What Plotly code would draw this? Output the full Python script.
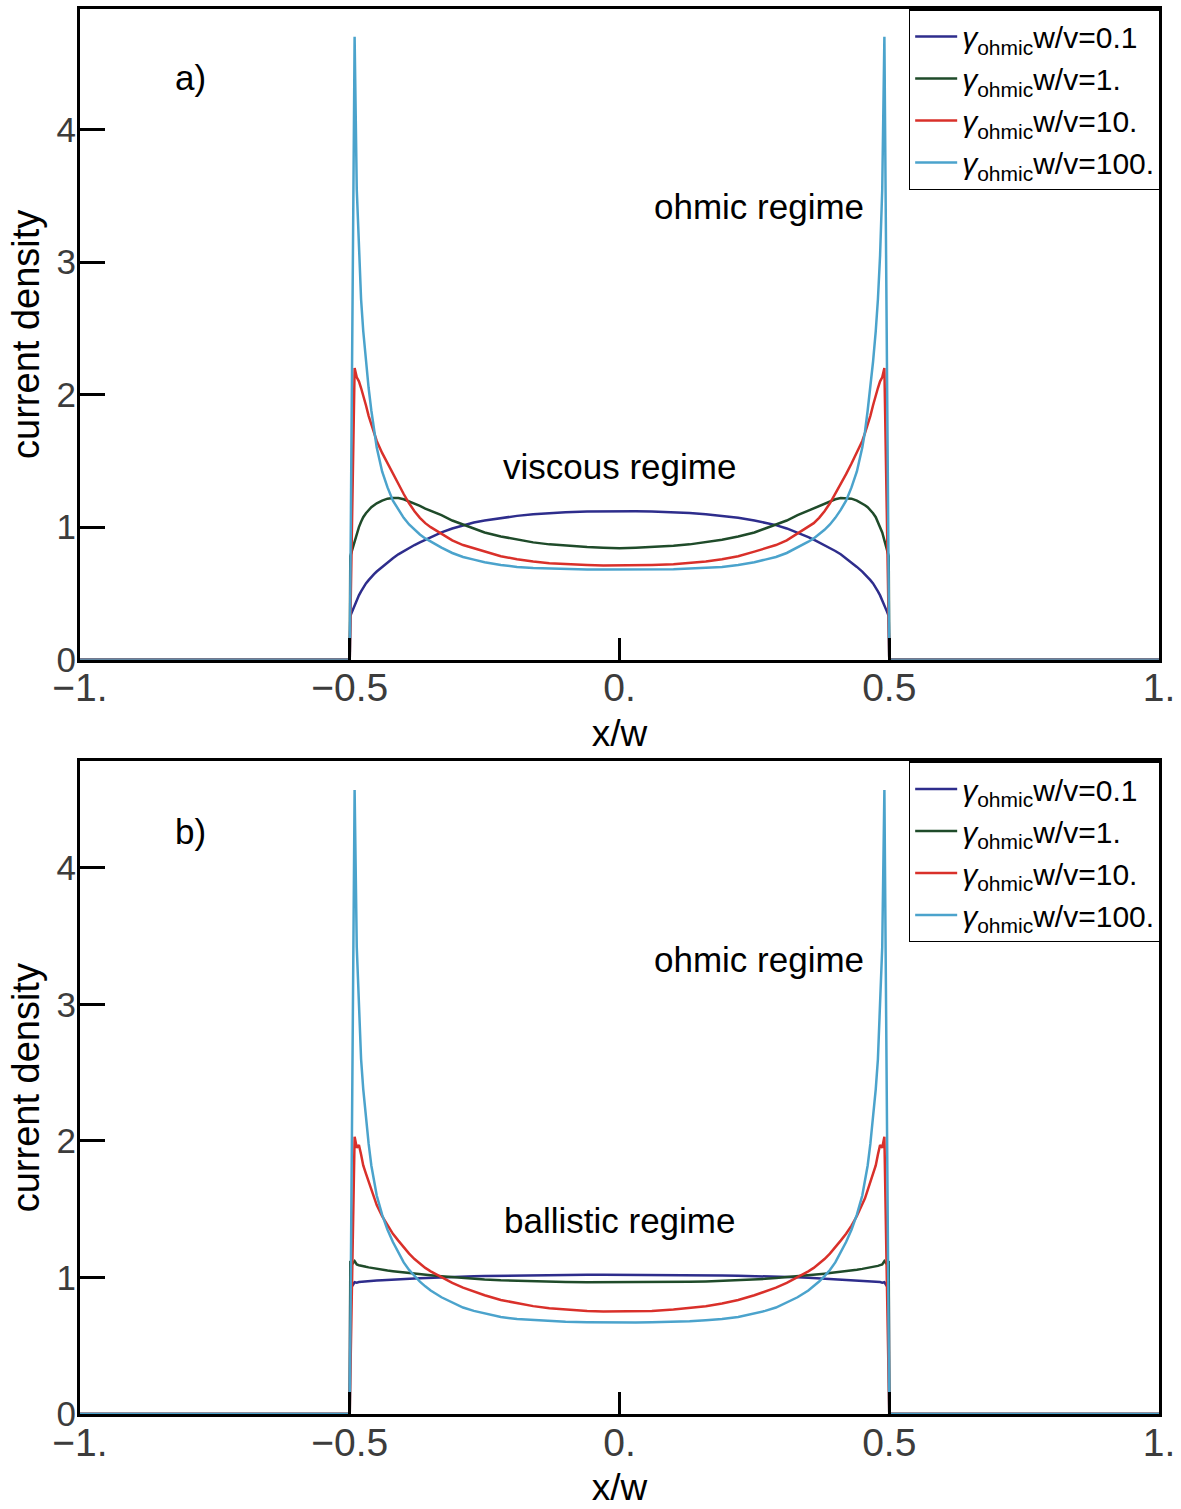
import plotly.graph_objects as go

# sample positions (x/w), shared by all curves
x_grid = [-1.0,
          -0.5, -0.499, -0.495, -0.491, -0.487, -0.483, -0.479, -0.475, -0.47, -0.465,
          -0.46, -0.455, -0.45, -0.44, -0.43, -0.42, -0.41, -0.40, -0.39, -0.38,
          -0.37, -0.36, -0.35, -0.33, -0.31, -0.29, -0.27, -0.25, -0.22, -0.19,
          -0.16, -0.13, -0.10, -0.06, -0.03, 0.0,
          0.03, 0.06, 0.10, 0.13, 0.16, 0.19, 0.22, 0.25, 0.27, 0.29,
          0.31, 0.33, 0.35, 0.36, 0.37, 0.38, 0.39, 0.40, 0.41, 0.42,
          0.43, 0.44, 0.45, 0.455, 0.46, 0.465, 0.47, 0.475, 0.479, 0.483,
          0.487, 0.491, 0.495, 0.499, 0.5,
          1.0]

# panel a) viscous regime
a_g01 = [0,
         0, 0.33, 0.37, 0.41, 0.45, 0.485, 0.515, 0.545, 0.575, 0.60,
         0.625, 0.645, 0.665, 0.70, 0.735, 0.765, 0.795, 0.82, 0.845, 0.865,
         0.885, 0.905, 0.925, 0.96, 0.99, 1.015, 1.035, 1.05, 1.07, 1.085,
         1.097, 1.107, 1.113, 1.118, 1.12, 1.12,
         1.12, 1.118, 1.113, 1.107, 1.097, 1.085, 1.07, 1.05, 1.035, 1.015,
         0.99, 0.96, 0.925, 0.905, 0.885, 0.865, 0.845, 0.82, 0.795, 0.765,
         0.735, 0.70, 0.665, 0.645, 0.625, 0.60, 0.575, 0.545, 0.515, 0.485,
         0.45, 0.41, 0.37, 0.33, 0,
         0]
a_g1 = [0,
        0, 0.78, 0.84, 0.90, 0.96, 1.00, 1.04, 1.075, 1.105, 1.13,
        1.15, 1.165, 1.18, 1.20, 1.215, 1.22, 1.22, 1.21, 1.195, 1.18,
        1.16, 1.14, 1.125, 1.09, 1.05, 1.02, 0.99, 0.96, 0.93, 0.905,
        0.885, 0.87, 0.86, 0.85, 0.845, 0.84,
        0.845, 0.85, 0.86, 0.87, 0.885, 0.905, 0.93, 0.96, 0.99, 1.02,
        1.05, 1.09, 1.125, 1.14, 1.16, 1.18, 1.195, 1.21, 1.22, 1.22,
        1.215, 1.20, 1.18, 1.165, 1.15, 1.13, 1.105, 1.075, 1.04, 1.00,
        0.96, 0.90, 0.84, 0.78, 0,
        0]
a_g10 = [0,
         0, 0.25, 1.2, 2.20, 2.13, 2.10, 2.05, 2.00, 1.92, 1.84,
         1.77, 1.71, 1.65, 1.56, 1.48, 1.40, 1.32, 1.25, 1.18, 1.12,
         1.07, 1.03, 1.00, 0.95, 0.90, 0.865, 0.84, 0.815, 0.78, 0.758,
         0.74, 0.728, 0.72, 0.715, 0.71, 0.71,
         0.71, 0.715, 0.72, 0.728, 0.74, 0.758, 0.78, 0.815, 0.84, 0.865,
         0.90, 0.95, 1.00, 1.03, 1.07, 1.12, 1.18, 1.25, 1.32, 1.40,
         1.48, 1.56, 1.65, 1.71, 1.77, 1.84, 1.92, 2.00, 2.05, 2.10,
         2.13, 2.20, 1.2, 0.25, 0,
         0]
a_g100 = [0,
          0, 0.5, 2.6, 4.70, 3.55, 3.05, 2.72, 2.48, 2.25, 2.05,
          1.88, 1.72, 1.60, 1.42, 1.30, 1.20, 1.13, 1.07, 1.02, 0.98,
          0.945, 0.915, 0.89, 0.845, 0.805, 0.775, 0.755, 0.735, 0.715, 0.70,
          0.692, 0.687, 0.683, 0.68, 0.68, 0.68,
          0.68, 0.68, 0.683, 0.687, 0.692, 0.70, 0.715, 0.735, 0.755, 0.775,
          0.805, 0.845, 0.89, 0.915, 0.945, 0.98, 1.02, 1.07, 1.13, 1.20,
          1.30, 1.42, 1.60, 1.72, 1.88, 2.05, 2.25, 2.48, 2.72, 3.05,
          3.55, 4.70, 2.6, 0.5, 0,
          0]

# panel b) ballistic regime
b_g01 = [0,
         0, 0.96, 0.94, 0.965, 0.962, 0.966, 0.968, 0.969, 0.971, 0.972,
         0.974, 0.975, 0.977, 0.979, 0.982, 0.984, 0.986, 0.988, 0.99, 0.992,
         0.994, 0.996, 0.998, 1.001, 1.004, 1.006, 1.009, 1.011, 1.013, 1.015,
         1.017, 1.018, 1.019, 1.02, 1.02, 1.02,
         1.02, 1.02, 1.019, 1.018, 1.017, 1.015, 1.013, 1.011, 1.009, 1.006,
         1.004, 1.001, 0.998, 0.996, 0.994, 0.992, 0.99, 0.988, 0.986, 0.984,
         0.982, 0.979, 0.977, 0.975, 0.974, 0.972, 0.971, 0.969, 0.968, 0.966,
         0.962, 0.965, 0.94, 0.96, 0,
         0]
b_g1 = [0,
        0, 1.12, 1.10, 1.12, 1.095, 1.09, 1.085, 1.082, 1.078, 1.074,
        1.07, 1.066, 1.063, 1.057, 1.051, 1.046, 1.041, 1.036, 1.032, 1.028,
        1.024, 1.02, 1.016, 1.009, 1.002, 0.996, 0.99, 0.985, 0.979, 0.975,
        0.971, 0.968, 0.966, 0.965, 0.965, 0.965,
        0.965, 0.965, 0.966, 0.968, 0.971, 0.975, 0.979, 0.985, 0.99, 0.996,
        1.002, 1.009, 1.016, 1.02, 1.024, 1.028, 1.032, 1.036, 1.041, 1.046,
        1.051, 1.057, 1.063, 1.066, 1.07, 1.074, 1.078, 1.082, 1.085, 1.09,
        1.095, 1.12, 1.10, 1.12, 0,
        0]
b_g10 = [0,
         0, 0.25, 1.1, 2.03, 1.95, 1.97, 1.90, 1.82, 1.76, 1.70,
         1.64, 1.58, 1.53, 1.45, 1.38, 1.32, 1.27, 1.22, 1.175, 1.135,
         1.10, 1.07, 1.045, 1.00, 0.96, 0.925, 0.895, 0.87, 0.835, 0.81,
         0.79, 0.775, 0.765, 0.755, 0.75, 0.75,
         0.75, 0.755, 0.765, 0.775, 0.79, 0.81, 0.835, 0.87, 0.895, 0.925,
         0.96, 1.00, 1.045, 1.07, 1.10, 1.135, 1.175, 1.22, 1.27, 1.32,
         1.38, 1.45, 1.53, 1.58, 1.64, 1.70, 1.76, 1.82, 1.90, 1.97,
         1.95, 2.03, 1.1, 0.25, 0,
         0]
b_g100 = [0,
          0, 0.5, 2.5, 4.57, 3.42, 2.95, 2.60, 2.38, 2.16, 1.98,
          1.82, 1.70, 1.60, 1.46, 1.35, 1.26, 1.18, 1.11, 1.055, 1.01,
          0.97, 0.935, 0.905, 0.855, 0.815, 0.78, 0.755, 0.735, 0.71, 0.695,
          0.687, 0.68, 0.675, 0.672, 0.67, 0.67,
          0.67, 0.672, 0.675, 0.68, 0.687, 0.695, 0.71, 0.735, 0.755, 0.78,
          0.815, 0.855, 0.905, 0.935, 0.97, 1.01, 1.055, 1.11, 1.18, 1.26,
          1.35, 1.46, 1.60, 1.70, 1.82, 1.98, 2.16, 2.38, 2.60, 2.95,
          3.42, 4.57, 2.5, 0.5, 0,
          0]

labels = ["<i>γ</i><sub>ohmic</sub>w/v=0.1", "<i>γ</i><sub>ohmic</sub>w/v=1.",
          "<i>γ</i><sub>ohmic</sub>w/v=10.", "<i>γ</i><sub>ohmic</sub>w/v=100."]
colors = ["#2e2d8c", "#1f4b2a", "#d9302a", "#4ba3cc"]

x_tickvals = [-1, -0.5, 0, 0.5, 1]
x_ticktext = ["−1.", "−0.5", "0.", "0.5", "1."]
y_tickvals = [0, 1, 2, 3, 4]

FONT = "Liberation Sans, Arial, sans-serif"

fig = go.Figure()

for ys, name, col in zip([a_g01, a_g1, a_g10, a_g100], labels, colors):
    fig.add_trace(go.Scatter(x=x_grid, y=ys, mode="lines", name=name,
                             line=dict(color=col, width=2.5),
                             xaxis="x", yaxis="y", legend="legend"))

for ys, name, col in zip([b_g01, b_g1, b_g10, b_g100], labels, colors):
    fig.add_trace(go.Scatter(x=x_grid, y=ys, mode="lines", name=name,
                             line=dict(color=col, width=2.5),
                             xaxis="x2", yaxis="y2", legend="legend2"))

xax = dict(range=[-1, 1], tickvals=x_tickvals, ticktext=x_ticktext,
           ticks="inside", ticklen=22, tickwidth=2.5, tickcolor="black",
           showline=True, linewidth=3, linecolor="black", mirror=True,
           showgrid=False, zeroline=False, ticklabelstandoff=-8,
           tickfont=dict(size=39, color="#3c3c3c", family=FONT),
           title=dict(text="x/w", font=dict(size=37, color="black", family=FONT), standoff=12))
yax = dict(tickvals=y_tickvals, ticks="inside", ticklen=25, tickwidth=2.5, tickcolor="black",
           showline=True, linewidth=3, linecolor="black", mirror=True,
           showgrid=False, zeroline=False, ticklabelstandoff=-6,
           tickfont=dict(size=35, color="#3c3c3c", family=FONT),
           title=dict(text="current density", font=dict(size=38, color="black", family=FONT),
                      standoff=6))

leg = dict(x=0.768, xanchor="left", yanchor="top", bgcolor="white",
           bordercolor="black", borderwidth=1.5, itemwidth=42,
           font=dict(size=30, color="black", family=FONT))

fig.update_layout(
    width=1181, height=1509,
    margin=dict(l=80, r=19, t=6, b=95),
    paper_bgcolor="white", plot_bgcolor="white",
    font=dict(family=FONT, color="black"),
    xaxis=dict(xax, anchor="y", domain=[0, 1]),
    yaxis=dict(yax, anchor="x", domain=[0.5369, 1], range=[0, 4.91]),
    xaxis2=dict(xax, anchor="y2", domain=[0, 1]),
    yaxis2=dict(yax, anchor="x2", domain=[0, 0.4645], range=[0, 4.78]),
    legend=dict(leg, y=1),
    legend2=dict(leg, y=0.4645),
    annotations=[
        dict(text="a)", x=-0.795, y=4.39, xref="x", yref="y"),
        dict(text="ohmic regime", x=0.259, y=3.42, xref="x", yref="y"),
        dict(text="viscous regime", x=0.0, y=1.455, xref="x", yref="y"),
        dict(text="b)", x=-0.795, y=4.27, xref="x2", yref="y2"),
        dict(text="ohmic regime", x=0.259, y=3.33, xref="x2", yref="y2"),
        dict(text="ballistic regime", x=0.0, y=1.417, xref="x2", yref="y2"),
    ],
)
fig.update_annotations(showarrow=False, font=dict(size=35, color="black", family=FONT))

# drop the page's default body margin so the figure sits at the top-left corner
fig.write_html("out.html", config={"displayModeBar": False},
               post_script="document.body.style.margin='0';")
